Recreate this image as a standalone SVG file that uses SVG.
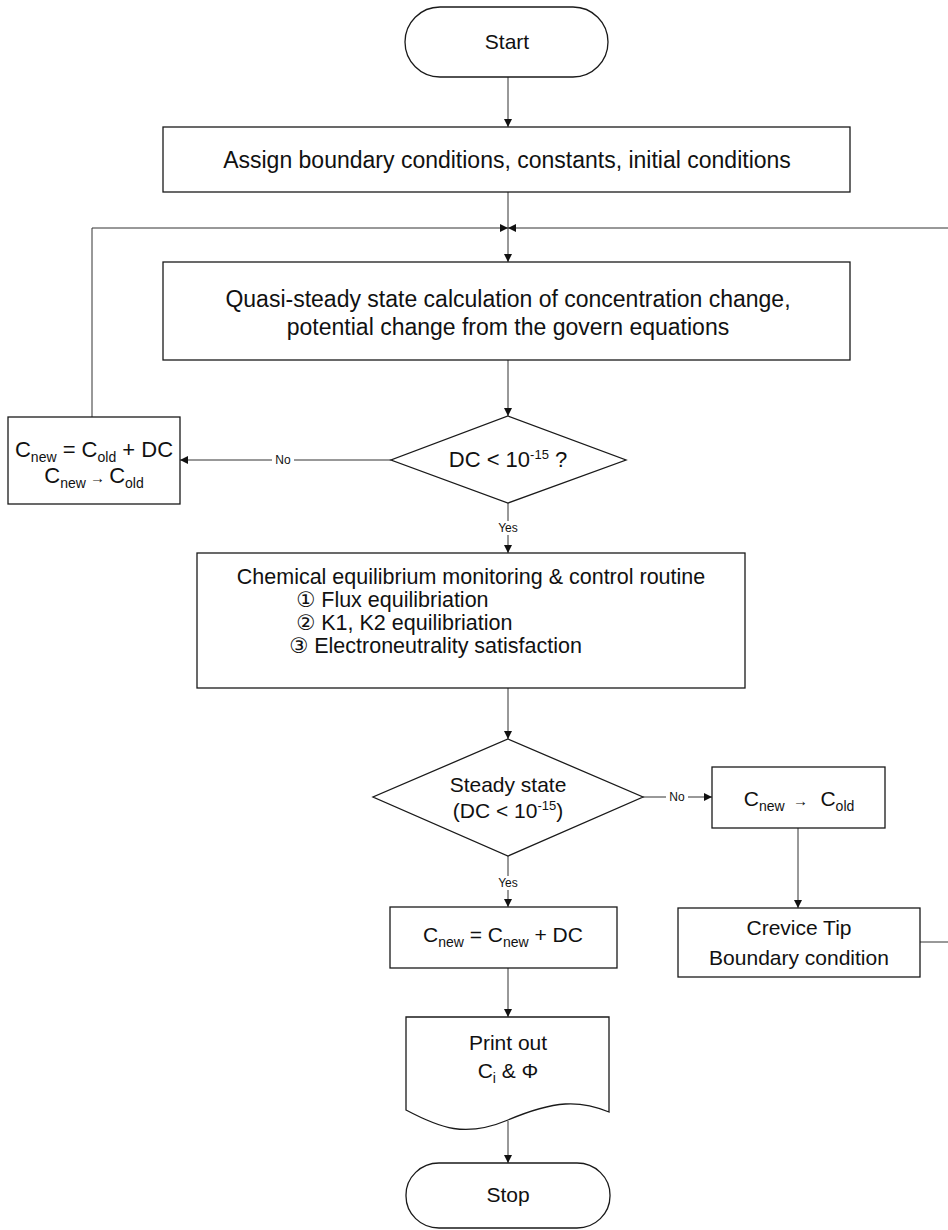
<svg xmlns="http://www.w3.org/2000/svg" width="948" height="1230" viewBox="0 0 948 1230">
<defs>
<style>
.box{fill:#fff;stroke:#1a1a1a;stroke-width:1.3}
.t{font-family:"Liberation Sans","DejaVu Sans",Arial,sans-serif;fill:#111;font-size:21px}
.big{font-size:23px}
.mid{font-size:21.5px}
.b22{font-size:22px}
.lbl{font-family:"Liberation Sans",Arial,sans-serif;fill:#111;font-size:12px}
.c{stroke:#333;stroke-width:1;fill:none}
.sub{font-size:14px}
.sup{font-size:13px}
.arw{font-size:15px}
</style>
<marker id="ah" markerUnits="userSpaceOnUse" markerWidth="8" markerHeight="8" refX="8" refY="4" orient="auto">
<path d="M0,0 L8,4 L0,8 Z" fill="#111"/>
</marker>
</defs>
<rect width="948" height="1230" fill="#fff"/>

<g id="connectors">
<line class="c" x1="508" y1="77" x2="508" y2="127" marker-end="url(#ah)"/>
<line class="c" x1="508" y1="192" x2="508" y2="262" marker-end="url(#ah)"/>
<polyline class="c" points="92,417 92,228 508,228" marker-end="url(#ah)"/>
<line class="c" x1="948" y1="228" x2="508" y2="228" marker-end="url(#ah)"/>
<line class="c" x1="508" y1="360" x2="508" y2="416" marker-end="url(#ah)"/>
<line class="c" x1="391" y1="460" x2="180" y2="460" marker-end="url(#ah)"/>
<line class="c" x1="508" y1="503" x2="508" y2="553" marker-end="url(#ah)"/>
<line class="c" x1="508" y1="688" x2="508" y2="739" marker-end="url(#ah)"/>
<line class="c" x1="643" y1="797" x2="712" y2="797" marker-end="url(#ah)"/>
<line class="c" x1="798" y1="828" x2="798" y2="908" marker-end="url(#ah)"/>
<line class="c" x1="920" y1="942" x2="948" y2="942"/>
<line class="c" x1="508" y1="856" x2="508" y2="907" marker-end="url(#ah)"/>
<line class="c" x1="508" y1="968" x2="508" y2="1017" marker-end="url(#ah)"/>
<line class="c" x1="508" y1="1121" x2="508" y2="1163" marker-end="url(#ah)"/>
<rect x="272" y="453" width="22" height="14" fill="#fff"/>
<text class="lbl" x="283" y="464" text-anchor="middle">No</text>
<rect x="494" y="521" width="28" height="14" fill="#fff"/>
<text class="lbl" x="508" y="532" text-anchor="middle">Yes</text>
<rect x="666" y="790" width="22" height="14" fill="#fff"/>
<text class="lbl" x="677" y="801" text-anchor="middle">No</text>
<rect x="494" y="876" width="28" height="14" fill="#fff"/>
<text class="lbl" x="508" y="887" text-anchor="middle">Yes</text>
</g>

<g id="start">
<rect class="box" x="405" y="7" width="203" height="70" rx="35" ry="35"/>
<text class="t" x="507" y="49" text-anchor="middle">Start</text>
</g>

<g id="assign">
<rect class="box" x="163" y="127" width="687" height="65"/>
<text class="t big" x="507" y="168" text-anchor="middle">Assign boundary conditions, constants, initial conditions</text>
</g>

<g id="quasi">
<rect class="box" x="163" y="262" width="687" height="98"/>
<text class="t big" x="508" y="307" text-anchor="middle">Quasi-steady state calculation of concentration change,</text>
<text class="t big" x="508" y="335" text-anchor="middle">potential change from the govern equations</text>
</g>

<g id="decision1">
<polygon class="box" points="508,416 626,460 508,503 391,460"/>
<text class="t b22" x="508" y="467" text-anchor="middle">DC &lt; 10<tspan class="sup" dy="-8">-15</tspan><tspan dy="8"> ?</tspan></text>
</g>

<g id="update">
<rect class="box" x="8" y="417" width="172" height="87"/>
<text class="t b22" x="94" y="457" text-anchor="middle">C<tspan class="sub" dy="5">new</tspan><tspan dy="-5"> = C</tspan><tspan class="sub" dy="5">old</tspan><tspan dy="-5"> + DC</tspan></text>
<text class="t b22" x="94" y="483" text-anchor="middle">C<tspan class="sub" dy="5">new</tspan><tspan class="arw" dy="-5"> → </tspan><tspan>C</tspan><tspan class="sub" dy="5">old</tspan></text>
</g>

<g id="chemical">
<rect class="box" x="197" y="553" width="548" height="135"/>
<text class="t mid" x="471" y="584" text-anchor="middle">Chemical equilibrium monitoring &amp; control routine</text>
<text class="t mid" x="296" y="607">① Flux equilibriation</text>
<text class="t mid" x="296" y="630">② K1, K2 equilibriation</text>
<text class="t mid" x="289" y="653">③ Electroneutrality satisfaction</text>
</g>

<g id="decision2">
<polygon class="box" points="508,739 643,797 508,856 373,797"/>
<text class="t" x="508" y="792" text-anchor="middle">Steady state</text>
<text class="t" x="508" y="818" text-anchor="middle">(DC &lt; 10<tspan class="sup" dy="-8">-15</tspan><tspan dy="8">)</tspan></text>
</g>

<g id="swap">
<rect class="box" x="712" y="767" width="173" height="61"/>
<text class="t" x="799" y="806" text-anchor="middle">C<tspan class="sub" dy="5">new</tspan><tspan class="arw" dy="-5">&#160;&#160;→&#160;&#160;&#160;</tspan><tspan>C</tspan><tspan class="sub" dy="5">old</tspan></text>
</g>

<g id="crevice">
<rect class="box" x="678" y="908" width="242" height="69"/>
<text class="t" x="799" y="935" text-anchor="middle">Crevice Tip</text>
<text class="t" x="799" y="965" text-anchor="middle">Boundary condition</text>
</g>

<g id="newvalue">
<rect class="box" x="390" y="907" width="227" height="61"/>
<text class="t" x="503" y="942" text-anchor="middle">C<tspan class="sub" dy="5">new</tspan><tspan dy="-5"> = C</tspan><tspan class="sub" dy="5">new</tspan><tspan dy="-5"> + DC</tspan></text>
</g>

<g id="printout">
<path class="box" d="M406,1017 H609 V1112 C580,1100 555,1100 508,1120 C465,1138 440,1128 406,1110 Z"/>
<text class="t" x="508" y="1050" text-anchor="middle">Print out</text>
<text class="t" x="508" y="1078" text-anchor="middle">C<tspan class="sub" dy="5">i</tspan><tspan dy="-5"> &amp; Φ</tspan></text>
</g>

<g id="stop">
<rect class="box" x="406" y="1163" width="204" height="65" rx="33" ry="32"/>
<text class="t" x="508" y="1202" text-anchor="middle">Stop</text>
</g>
</svg>
